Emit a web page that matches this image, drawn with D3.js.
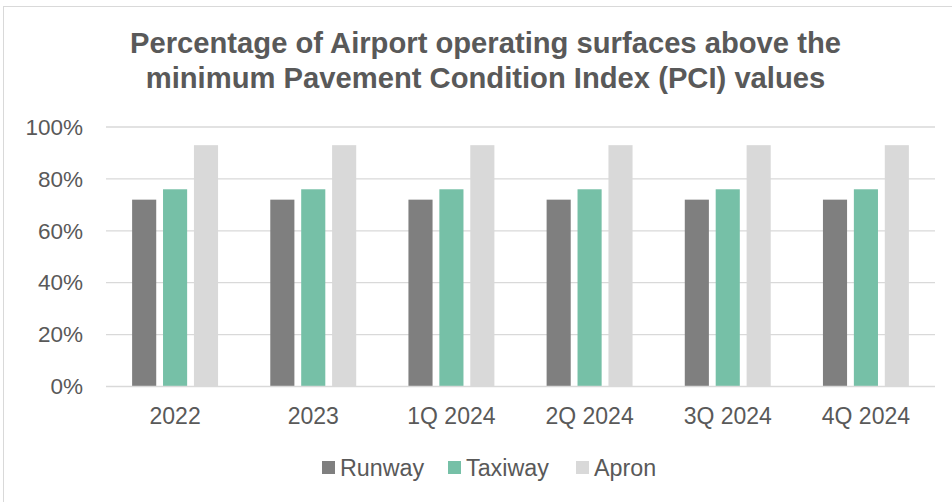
<!DOCTYPE html>
<html><head><meta charset="utf-8">
<script src="https://cdn.jsdelivr.net/npm/d3@7"></script>
<style>body{margin:0;background:#fff}svg{display:block}text{font-family:"Liberation Sans",Arial,sans-serif;fill:#595959}</style>
</head><body><svg id="c" width="952" height="502"></svg>
<script>
const categories = ["2022","2023","1Q 2024","2Q 2024","3Q 2024","4Q 2024"];
const seriesNames = ["Runway","Taxiway","Apron"];
const runway  = [72,72,72,72,72,72];
const taxiway = [76,76,76,76,76,76];
const apron   = [93,93,93,93,93,93];
const yTicks = [0,20,40,60,80,100];
const colors = ["#7f7f7f","#76c0a7","#d9d9d9"];
const titleLines = ["Percentage of Airport operating surfaces above the","minimum Pavement Condition Index (PCI) values"];

const series = [runway, taxiway, apron];
const svg = d3.select("#c");
const W = 952, H = 502;
const m = {left:106, right:935, top:127, bottom:386.5};
const FONT = "Liberation Sans, Arial, sans-serif";

svg.append("rect").attr("x",3.5).attr("y",6.5).attr("width",W+10).attr("height",H+10)
  .attr("fill","#fff").attr("stroke","#d9d9d9").attr("stroke-width",1);

const x = d3.scaleBand().domain(categories).range([m.left,m.right]).paddingInner(0.378).paddingOuter(0.189);
const x1 = d3.scaleBand().domain(seriesNames).range([0,x.bandwidth()]).paddingInner(0.22);
const y = d3.scaleLinear().domain([0,100]).range([m.bottom,m.top]);

// gridlines
svg.append("g").selectAll("line").data(yTicks.filter(d=>d>0)).join("line")
  .attr("x1",m.left).attr("x2",m.right).attr("y1",d=>y(d)).attr("y2",d=>y(d))
  .attr("stroke","#d9d9d9").attr("stroke-width",1.3);

// bars
const g = svg.append("g");
series.forEach((vals,si)=>{
  g.append("g").selectAll("rect").data(vals).join("rect")
    .attr("x",(d,i)=>x(categories[i])+x1(seriesNames[si]))
    .attr("width",x1.bandwidth())
    .attr("y",d=>y(d)).attr("height",d=>y(0)-y(d))
    .attr("fill",colors[si]);
});

// baseline
svg.append("line").attr("x1",m.left).attr("x2",m.right).attr("y1",y(0)).attr("y2",y(0))
  .attr("stroke","#d9d9d9").attr("stroke-width",1.3);

// y axis
const ya = svg.append("g").attr("transform",`translate(${m.left},0)`)
  .call(d3.axisLeft(y).tickValues(yTicks).tickFormat(d=>d+"%").tickSize(0).tickPadding(23));
ya.select(".domain").remove();
ya.selectAll("text").style("font-size","22.5px").attr("fill","#595959").style("font-family",FONT);

// x axis
const xa = svg.append("g").attr("transform",`translate(0,${m.bottom})`)
  .call(d3.axisBottom(x).tickSize(0).tickPadding(0));
xa.select(".domain").remove();
xa.selectAll("text").attr("dy",null).attr("y",37).style("font-size","23px").attr("fill","#595959").style("font-family",FONT);

// title
svg.append("g").selectAll("text").data(titleLines).join("text")
  .attr("x",485.5).attr("y",(d,i)=>53.3+i*35).attr("text-anchor","middle")
  .style("font-size","29.2px").style("font-weight","bold").text(d=>d);

// legend
const legX = [322,448,576];
const lg = svg.append("g").selectAll("g").data(seriesNames).join("g")
  .attr("transform",(d,i)=>`translate(${legX[i]},461)`);
lg.append("rect").attr("width",13).attr("height",13).attr("fill",(d,i)=>colors[i]);
lg.append("text").attr("x",18).attr("y",14.5).style("font-size","23.3px").text(d=>d);
</script></body></html>
